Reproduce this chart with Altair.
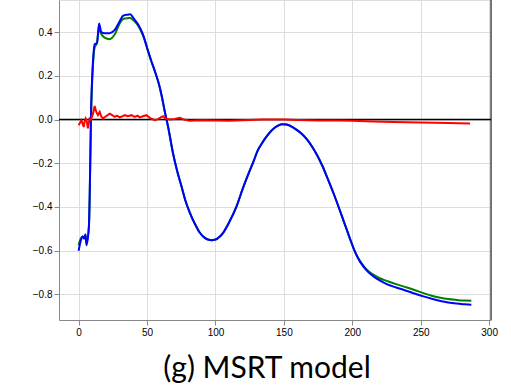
import altair as alt
import pandas as pd

# ---- data ----
xs = [0, 1.5, 3, 4, 5, 5.7, 7.5, 9.3, 10.5, 11.7, 13.4, 14.9, 16.6, 19, 22.7, 26.4, 30,
      32.5, 36, 37.8, 39.8, 43.4, 47, 50.7, 53, 55.6, 59.3, 61, 63, 65.4, 69, 72, 75.2,
      78, 81.3, 85, 88.6, 92, 95, 97.1, 100, 103, 105.6, 110, 115.4, 120, 124, 127.6,
      131, 134, 137.4, 141, 145, 148.4, 152, 156, 159.4, 163, 167, 171, 174, 178, 182,
      186.2, 190, 194, 198, 201, 204, 208, 212, 216, 220, 225.2, 232, 239.9, 246, 252,
      258, 264.3, 270, 276, 282, 287]

blue_y = [-0.600, -0.555, -0.535, -0.545, -0.525, -0.575, -0.490, 0.090, 0.270, 0.345,
          0.350, 0.440, 0.400, 0.395, 0.395, 0.410, 0.450, 0.475, 0.480, 0.482, 0.466,
          0.436, 0.390, 0.315, 0.270, 0.224, 0.148, 0.100, 0.035, -0.034, -0.155, -0.235,
          -0.306, -0.370, -0.427, -0.478, -0.518, -0.540, -0.550, -0.552, -0.549, -0.536,
          -0.518, -0.470, -0.397, -0.315, -0.250, -0.195, -0.140, -0.108, -0.077, -0.050,
          -0.030, -0.021, -0.023, -0.033, -0.047, -0.065, -0.092, -0.128, -0.160, -0.210,
          -0.270, -0.336, -0.400, -0.470, -0.540, -0.590, -0.632, -0.672, -0.700, -0.720,
          -0.736, -0.753, -0.768, -0.784, -0.797, -0.809, -0.820, -0.830, -0.837, -0.842,
          -0.845, -0.847]

green_y = [-0.575, -0.545, -0.535, -0.540, -0.530, -0.560, -0.490, 0.070, 0.250, 0.330,
           0.350, 0.415, 0.390, 0.375, 0.368, 0.390, 0.440, 0.460, 0.464, 0.465, 0.455,
           0.430, 0.385, 0.313, 0.268, 0.222, 0.146, 0.098, 0.035, -0.034, -0.155, -0.235,
           -0.306, -0.370, -0.427, -0.478, -0.518, -0.540, -0.550, -0.552, -0.549, -0.536,
           -0.518, -0.470, -0.397, -0.315, -0.250, -0.195, -0.140, -0.108, -0.077, -0.050,
           -0.030, -0.021, -0.023, -0.033, -0.047, -0.065, -0.092, -0.128, -0.160, -0.210,
           -0.270, -0.336, -0.400, -0.470, -0.540, -0.590, -0.630, -0.668, -0.695, -0.712,
           -0.726, -0.738, -0.753, -0.768, -0.781, -0.794, -0.806, -0.815, -0.821, -0.825,
           -0.828, -0.829]

red_x = [0, 1, 2, 3, 3.7, 4.5, 5.1, 6, 6.8, 8, 9, 10.5, 11.7, 12.9, 14.1, 15.4, 16.5,
         17.8, 20, 22.7, 24.5, 26.4, 28, 30, 32, 33.7, 36, 38.6, 41, 43, 44.7, 47, 49.6,
         52, 55.6, 58, 60, 61.7, 63.5, 66.6, 70, 74, 77, 81, 90, 100, 110, 120, 135, 150,
         160, 175, 190, 200, 215, 230, 250, 270, 286]
red_y = [-0.026, -0.015, -0.003, -0.020, -0.034, -0.005, 0.005, -0.010, -0.040, 0.005,
         0.000, 0.027, 0.062, 0.035, 0.020, 0.035, 0.015, 0.005, 0.015, 0.027, 0.020,
         0.012, 0.018, 0.010, 0.015, 0.020, 0.015, 0.020, 0.012, 0.018, 0.010, 0.015,
         0.020, 0.008, -0.003, 0.002, 0.010, 0.015, 0.005, 0.000, 0.003, 0.008, 0.000,
         -0.005, -0.003, -0.004, -0.005, -0.003, 0.000, 0.000, -0.002, -0.004, -0.004,
         -0.005, -0.009, -0.011, -0.014, -0.016, -0.018]

x_ticks = [0, 50, 100, 150, 200, 250, 300]
y_ticks = [-0.8, -0.6, -0.4, -0.2, 0.0, 0.2, 0.4]
title_text = "(g) MSRT model"

x_domain = [-14.35, 301.35]
y_domain = [-0.917, 0.547]

xscale = alt.Scale(domain=x_domain, nice=False, zero=False)
yscale = alt.Scale(domain=y_domain, nice=False, zero=False)

xaxis = alt.Axis(values=x_ticks, format="d", labelFlush=False, title=None)
yaxis = alt.Axis(values=y_ticks, title=None,
                 labelExpr="replace(format(datum.value, '.1f'), '-', '\u2212')")


def series(xs_, ys_, color, interp):
    df = pd.DataFrame({"x": xs_, "y": ys_})
    return alt.Chart(df).mark_line(color=color, strokeWidth=2, interpolate=interp).encode(
        x=alt.X("x:Q", scale=xscale, axis=xaxis),
        y=alt.Y("y:Q", scale=yscale, axis=yaxis),
    )


zero_line = alt.Chart(pd.DataFrame({"y": [0.0]})).mark_rule(
    color="black", strokeWidth=1.5
).encode(y=alt.Y("y:Q", scale=yscale, axis=yaxis))

right_spine = alt.Chart(pd.DataFrame({"a": [0]})).mark_rule(
    color="black", strokeWidth=1
).encode(x=alt.value(432), y=alt.value(0), y2=alt.value(320))

chart = alt.layer(
    series(xs, green_y, "#008000", "monotone"),
    series(xs, blue_y, "#0000ff", "monotone"),
    zero_line,
    series(red_x, red_y, "#ff0000", "linear"),
    right_spine,
).properties(
    width=432,
    height=320,
    padding={"left": 59, "top": 0, "right": 20, "bottom": 65},
    autosize=alt.AutoSizeParams(type="none"),
    title=alt.TitleParams(text=title_text, orient="bottom", anchor="middle",
                          font="Lato", fontSize=30, fontWeight="normal",
                          color="black", offset=17, dx=-8),
).configure_view(
    stroke=None
).configure_axis(
    grid=True, gridColor="#a8a8a8", gridWidth=1, gridOpacity=1,
    tickColor="black", tickSize=4, tickWidth=1,
    domainColor="black", domainWidth=1,
    labelFont="DejaVu Sans", labelFontSize=11, labelColor="#222222",
    labelPadding=3,
).configure(background="white")

chart.save("out.html", embed_options={"renderer": "svg", "actions": False})
